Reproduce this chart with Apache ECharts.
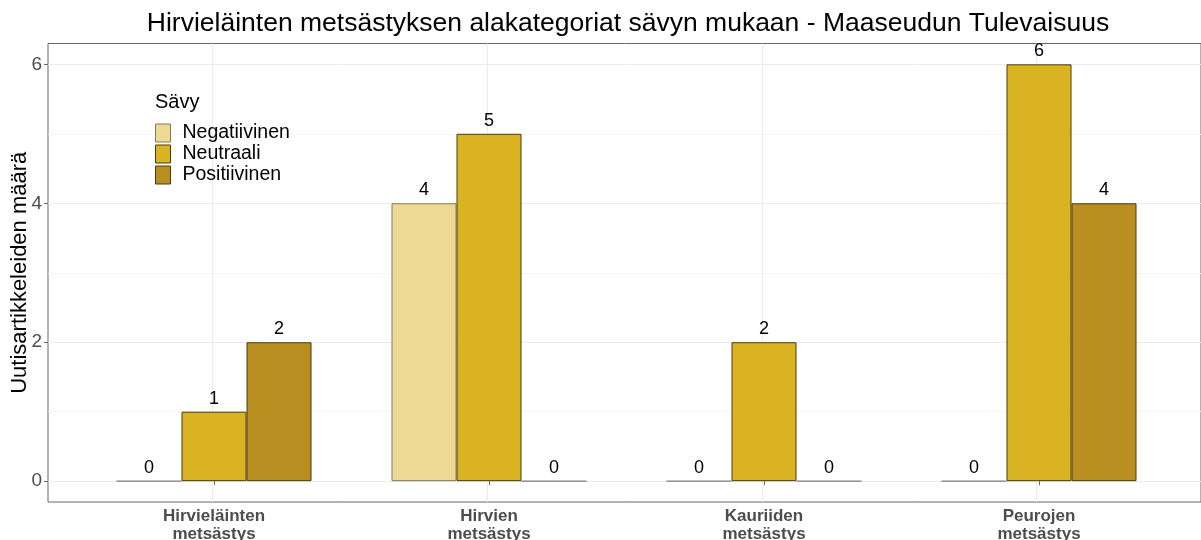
<!DOCTYPE html>
<html>
<head>
<meta charset="utf-8">
<script src="https://cdn.jsdelivr.net/npm/echarts@6/dist/echarts.min.js"></script>
<style>
  html, body { margin: 0; padding: 0; background: #fff; }
  #main { width: 1201px; height: 540px; }
</style>
</head>
<body>
<div id="main"></div>
<script>
var categories = ['Hirvieläinten\nmetsästys', 'Hirvien\nmetsästys', 'Kauriiden\nmetsästys', 'Peurojen\nmetsästys']
var negatiivinen = [0, 4, 0, 0]
var neutraali = [1, 5, 2, 6]
var positiivinen = [2, 0, 0, 4]
var yTicks = [0, 2, 4, 6]
var yGrid = [0, 1, 2, 3, 4, 5, 6]
var xGrid = [1, 2, 3, 4]

var font = 'Liberation Sans, Arial, sans-serif'

function barSeries(name, data, color, border) {
  return {
    name: name,
    type: 'bar',
    xAxisIndex: 1,
    yAxisIndex: 1,
    data: data.map(function (v) {
      // zero-height bars show only as a thin grey outline
      return v === 0 ? { value: v, itemStyle: { borderColor: '#8c8c8c' } } : v
    }),
    barWidth: 65,
    barGap: '0%',
    z: 3,
    itemStyle: { color: color, borderColor: border, borderWidth: 1 },
    label: {
      show: true,
      position: 'top',
      distance: 4,
      color: '#000',
      fontSize: 18,
      fontFamily: font
    }
  }
}

var gridLines = yGrid.map(function (v) {
  return { yAxis: v, lineStyle: { color: v % 2 === 0 ? '#ebebeb' : '#f5f5f5', width: 1, type: 'solid' } }
}).concat(xGrid.map(function (v) {
  return { xAxis: v, lineStyle: { color: '#ebebeb', width: 1, type: 'solid' } }
}))

var myChart = echarts.init(document.getElementById('main'))
myChart.setOption({
  animation: false,
  title: {
    text: 'Hirvieläinten metsästyksen alakategoriat sävyn mukaan - Maaseudun Tulevaisuus',
    left: 623,
    textAlign: 'center',
    top: 5,
    textStyle: { fontFamily: font, fontSize: 26.5, fontWeight: 'normal', color: '#000' }
  },
  legend: {
    orient: 'vertical',
    left: 155,
    top: 123,
    padding: 0,
    itemWidth: 15,
    itemHeight: 18,
    itemGap: 1,
    icon: 'rect',
    z: 10,
    itemStyle: { borderWidth: 1 },
    textStyle: { fontFamily: font, fontSize: 19.5, color: '#000', padding: [0, 0, 0, 7] },
    data: ['Negatiivinen', 'Neutraali', 'Positiivinen']
  },
  graphic: [{
    type: 'text',
    left: 155,
    top: 92,
    z: 10,
    style: { text: 'Sävy', fontFamily: font, fontSize: 20, fill: '#000' }
  }],
  grid: [
    { left: 48, right: 0, top: 43.5, bottom: 38, show: true, borderColor: '#666', borderWidth: 1, outerBoundsMode: 'none', containLabel: false },
    { left: 76.5, right: 24.5, top: 43.5, bottom: 38, outerBoundsMode: 'none', containLabel: false }
  ],
  xAxis: [{
    type: 'value',
    gridIndex: 0,
    min: 0.4,
    max: 4.6,
    axisLine: { show: false },
    axisTick: { show: false },
    axisLabel: { show: false },
    splitLine: { show: false }
  }, {
    type: 'category',
    gridIndex: 1,
    data: categories,
    axisLine: { show: false },
    axisTick: { show: true, alignWithLabel: true, length: 4, lineStyle: { color: '#666' } },
    axisLabel: {
      margin: 5,
      fontFamily: font,
      fontSize: 17,
      fontWeight: 'bold',
      color: '#4d4d4d',
      lineHeight: 18
    },
    splitLine: { show: false }
  }],
  yAxis: [{
    type: 'value',
    gridIndex: 0,
    min: -0.3,
    max: 6.3,
    axisLine: { show: false },
    axisTick: { show: false },
    axisLabel: { show: false },
    splitLine: { show: false }
  }, {
    type: 'value',
    gridIndex: 1,
    min: -0.3,
    max: 6.3,
    position: 'left',
    offset: 28.5,
    name: 'Uutisartikkeleiden määrä',
    nameLocation: 'middle',
    nameGap: 17,
    nameMoveOverlap: false,
    nameRotate: 90,
    nameTextStyle: { fontFamily: font, fontSize: 22, color: '#000' },
    axisLine: { show: false },
    axisTick: {
      show: true, length: 4, lineStyle: { color: '#666' },
      customValues: yTicks
    },
    axisLabel: {
      fontFamily: font,
      fontSize: 19,
      color: '#4d4d4d',
      margin: 6,
      customValues: yTicks
    },
    splitLine: { show: false }
  }],
  series: [
    barSeries('Negatiivinen', negatiivinen, '#eed994', '#857a58'),
    barSeries('Neutraali', neutraali, '#dab323', '#4a3b10'),
    barSeries('Positiivinen', positiivinen, '#b88e20', '#4a3b10'),
    {
      type: 'line',
      xAxisIndex: 0,
      yAxisIndex: 0,
      data: [],
      silent: true,
      z: 0,
      markLine: {
        silent: true,
        z: 0,
        symbol: 'none',
        label: { show: false },
        data: gridLines
      }
    }
  ]
})
</script>
</body>
</html>
